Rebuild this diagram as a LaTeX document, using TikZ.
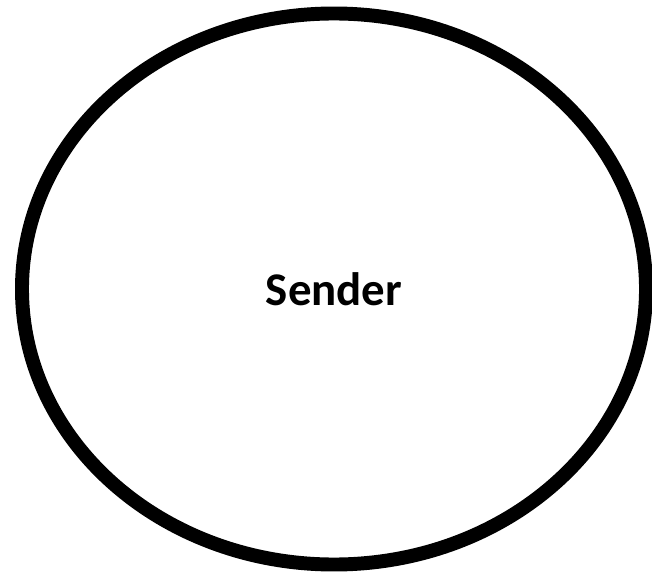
\documentclass[tikz,border=0pt]{standalone}
\usepackage{fontspec}
\setmainfont{Carlito}
\usepackage{tikz}
\usetikzlibrary{shapes.geometric}

\begin{document}
\begin{tikzpicture}[x=0.03cm,y=-0.03cm]
  % frame of 652 x 572 px, 1px = 0.03cm
  \useasboundingbox (0,0) rectangle (652,572);
  \tikzset{
    party/.style={ellipse, draw=black, line width=11.9pt, fill=white,
      minimum width=18.72cm, minimum height=16.53cm, inner sep=0pt,
      font=\fontsize{40}{46}\selectfont\bfseries}
  }
  \node[party] (sender) at (334,289) {Sender};
\end{tikzpicture}
\end{document}
